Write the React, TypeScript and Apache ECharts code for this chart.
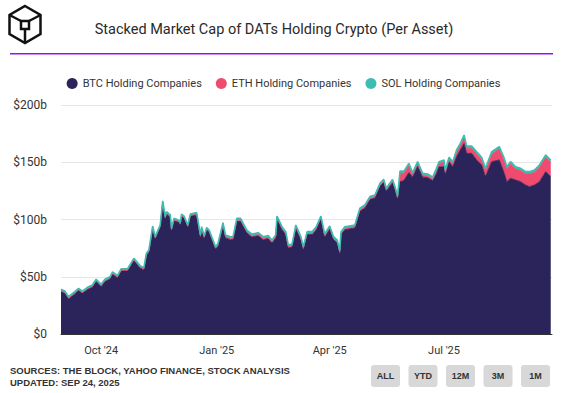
import React, { useEffect, useRef } from "react";
import * as echarts from "echarts";

const dates = [
  "2024-08-30", "2024-09-02", "2024-09-05", "2024-09-10", "2024-09-13", "2024-09-16", "2024-09-20", "2024-09-24", "2024-09-27",
  "2024-10-01", "2024-10-04", "2024-10-08", "2024-10-10", "2024-10-14", "2024-10-17", "2024-10-22", "2024-10-27",
  "2024-11-01", "2024-11-04", "2024-11-06", "2024-11-08", "2024-11-11", "2024-11-13", "2024-11-17", "2024-11-19", "2024-11-21", "2024-11-22", "2024-11-25", "2024-11-26", "2024-11-28",
  "2024-12-02", "2024-12-03", "2024-12-04", "2024-12-06", "2024-12-09", "2024-12-11", "2024-12-16", "2024-12-19", "2024-12-20", "2024-12-22", "2024-12-24", "2024-12-26", "2024-12-31",
  "2025-01-02", "2025-01-06", "2025-01-08", "2025-01-12", "2025-01-14", "2025-01-17", "2025-01-20", "2025-01-25", "2025-01-29",
  "2025-02-01", "2025-02-03", "2025-02-07", "2025-02-11", "2025-02-14", "2025-02-17", "2025-02-18", "2025-02-22", "2025-02-25", "2025-02-27",
  "2025-03-02", "2025-03-05", "2025-03-09", "2025-03-11", "2025-03-14", "2025-03-18", "2025-03-21", "2025-03-25", "2025-03-28",
  "2025-04-01", "2025-04-04", "2025-04-07", "2025-04-09", "2025-04-10", "2025-04-13", "2025-04-21", "2025-04-25", "2025-04-29",
  "2025-05-03", "2025-05-07", "2025-05-11", "2025-05-14", "2025-05-16", "2025-05-21", "2025-05-23", "2025-05-25", "2025-05-27", "2025-05-30",
  "2025-06-03", "2025-06-06", "2025-06-10", "2025-06-14", "2025-06-18", "2025-06-22", "2025-06-25", "2025-06-27",
  "2025-07-01", "2025-07-02", "2025-07-05", "2025-07-08", "2025-07-11", "2025-07-14", "2025-07-17", "2025-07-19", "2025-07-23", "2025-07-27", "2025-07-31",
  "2025-08-03", "2025-08-08", "2025-08-14", "2025-08-18", "2025-08-20", "2025-08-23", "2025-08-27", "2025-08-31",
  "2025-09-04", "2025-09-07", "2025-09-11", "2025-09-15", "2025-09-20", "2025-09-24",
];

const btcValues = [
  37.0, 35.5, 30.6, 35.0, 37.9, 35.5, 38.8, 40.8, 45.8,
  41.4, 45.8, 48.0, 52.2, 49.2, 55.0, 55.0, 64.1,
  57.7, 56.0, 68.5, 71.4, 92.3, 83.0, 93.2, 114.2, 100.5, 104.8, 102.0, 90.3, 99.0,
  97.4, 95.2, 102.8, 101.0, 93.2, 102.8, 104.0, 84.5, 91.7, 83.6, 91.0, 88.8, 74.3,
  76.4, 94.6, 83.9, 82.4, 82.4, 98.4, 98.4, 88.2, 84.7,
  85.4, 85.9, 82.4, 83.4, 79.4, 83.9, 100.4, 91.1, 86.8, 75.1,
  75.9, 92.6, 82.4, 73.7, 86.8, 86.8, 90.6, 100.4, 84.7,
  91.7, 82.4, 79.4, 70.2, 86.8, 91.1, 92.6, 107.2, 110.1,
  117.4, 118.8, 129.0, 132.4, 124.7, 132.4, 126.1, 117.9, 133.0, 134.0,
  141.0, 137.0, 146.5, 137.0, 136.5, 134.0, 140.0, 146.0,
  146.0, 139.0, 150.5, 146.0, 154.9, 160.7, 166.5, 157.8, 157.8, 152.0, 147.6,
  137.4, 150.5, 152.0, 140.3, 133.0, 136.0, 134.5, 133.0,
  130.1, 128.7, 130.1, 133.0, 141.8, 137.4,
];

const ethValues = [
  0.8, 0.8, 0.8, 0.8, 0.8, 0.8, 0.8, 0.8, 0.8,
  0.8, 0.8, 0.8, 0.8, 0.8, 0.8, 0.8, 0.8,
  0.8, 0.8, 0.8, 0.8, 0.8, 0.8, 0.8, 0.8, 0.8, 0.8, 0.8, 0.8, 0.8,
  0.8, 0.8, 0.8, 0.8, 0.8, 0.8, 0.8, 0.8, 0.8, 0.8, 0.8, 0.8, 0.8,
  1.0, 1.0, 1.0, 1.0, 1.0, 1.0, 1.0, 1.0, 1.0,
  1.0, 1.0, 1.0, 1.0, 1.0, 1.0, 1.0, 1.0, 1.0, 1.0,
  1.0, 1.0, 1.0, 1.0, 1.0, 1.0, 1.0, 1.0, 1.0,
  1.0, 1.0, 1.0, 1.0, 1.0, 1.0, 1.0, 1.0, 1.0,
  1.0, 1.0, 1.0, 1.0, 1.0, 1.0, 1.0, 1.0, 7.6, 6.2,
  6.2, 2.2, 2.2, 1.5, 1.4, 1.2, 2.9, 2.7,
  4.2, 2.4, 2.0, 2.7, 3.9, 3.9, 5.4, 4.5, 4.5, 5.3, 4.8,
  5.4, 6.8, 9.7, 11.1, 11.1, 12.5, 9.5, 9.7,
  9.7, 11.1, 11.1, 12.6, 12.5, 12.6,
];

const solValues = [
  1.2, 1.2, 1.2, 1.2, 1.2, 1.2, 1.2, 1.2, 1.2,
  1.2, 1.2, 1.2, 1.2, 1.2, 1.2, 1.2, 1.2,
  1.2, 1.2, 1.2, 1.2, 1.2, 1.2, 1.2, 1.2, 1.2, 1.2, 1.2, 1.2, 1.2,
  1.2, 1.2, 1.2, 1.2, 1.2, 1.2, 1.2, 1.2, 1.2, 1.2, 1.2, 1.2, 1.2,
  1.6, 1.6, 1.6, 1.6, 1.6, 1.6, 1.6, 1.6, 1.6,
  1.6, 1.6, 1.6, 1.6, 1.6, 1.6, 1.6, 1.6, 1.6, 1.6,
  1.6, 1.6, 1.6, 1.6, 1.6, 1.6, 1.6, 1.6, 1.6,
  1.6, 1.6, 1.6, 1.6, 1.6, 1.6, 1.6, 1.6, 1.6,
  1.6, 1.6, 1.6, 1.6, 1.6, 1.6, 1.6, 1.6, 1.8, 1.8,
  1.8, 1.8, 1.8, 1.8, 1.8, 1.8, 1.8, 1.8,
  1.8, 1.8, 1.8, 1.8, 1.9, 1.9, 1.9, 1.9, 1.9, 1.9, 1.9,
  1.9, 1.9, 1.9, 2.0, 2.0, 2.0, 2.0, 2.0,
  2.0, 2.0, 2.0, 2.0, 2.0, 2.0,
];

const seriesNames = ["BTC Holding Companies", "ETH Holding Companies", "SOL Holding Companies"];
const seriesColors = ["#2b245b", "#f04a6e", "#3dbdb2"];
const yTicks = [0, 50, 100, 150, 200];
const xLabelDates = ["2024-10-01", "2025-01-01", "2025-04-01", "2025-07-01"];
const xRange = ["2024-08-30", "2025-09-25"];
const buttons = ["ALL", "YTD", "12M", "3M", "1M"];
const title = "Stacked Market Cap of DATs Holding Crypto (Per Asset)";
const sourceLines = ["SOURCES: THE BLOCK, YAHOO FINANCE, STOCK ANALYSIS", "UPDATED: SEP 24, 2025"];

const MONTHS = ["Jan", "Feb", "Mar", "Apr", "May", "Jun", "Jul", "Aug", "Sep", "Oct", "Nov", "Dec"];
const toTs = (s: string) => {
  const [y, m, d] = s.split("-").map(Number);
  return new Date(y, m - 1, d).getTime();
};

export default function App() {
  const ref = useRef<HTMLDivElement>(null);
  useEffect(() => {
    if (!ref.current) return;
    const chart = echarts.init(ref.current, null, { renderer: "svg" });
    const valueSets = [btcValues, ethValues, solValues];
    const series = seriesNames.map((name, i) => ({
      name,
      type: "line",
      stack: "total",
      symbol: "none",
      showSymbol: false,
      xAxisIndex: 0,
      data: dates.map((d, j) => [d, valueSets[i][j]]),
      lineStyle: { width: i === 2 ? 1.6 : 0.8, color: seriesColors[i] },
      itemStyle: { color: seriesColors[i] },
      areaStyle: { color: seriesColors[i], opacity: 1 },
      z: 2,
    }));

    const hex = [
      [25, 6], [40.5, 15], [40.5, 34], [25, 43], [9.5, 34], [9.5, 15],
    ];
    const btnGraphics = buttons.map((b, i) => ({
      type: "group",
      left: 371 + i * 37.5,
      top: 365,
      children: [
        { type: "rect", shape: { x: 0, y: 0, width: 29, height: 22, r: 3 }, style: { fill: "#d8d8d8" } },
        {
          type: "text",
          style: {
            text: b, x: 14.5, y: 11, align: "center", verticalAlign: "middle",
            font: "bold 9px 'Liberation Sans', Arial, sans-serif", fill: "#333",
          },
        },
      ],
    }));

    chart.setOption({
      animation: false,
      backgroundColor: "#fff",
      title: {
        text: title,
        left: 269,
        textAlign: "center",
        top: 17,
        textStyle: { fontFamily: "Roboto, sans-serif", fontSize: 14.5, fontWeight: 400, color: "#2a2a2a" },
      },
      legend: {
        data: seriesNames,
        top: 73,
        left: "center",
        icon: "circle",
        itemWidth: 11,
        itemHeight: 11,
        itemGap: 14,
        textStyle: { fontFamily: "Roboto, sans-serif", fontSize: 11, color: "#333" },
      },
      grid: { left: 61, right: 15, top: 105, bottom: 59 },
      xAxis: [
        {
          type: "time",
          min: xRange[0],
          max: xRange[1],
          axisLine: { show: true, lineStyle: { color: "#333", width: 1 } },
          axisTick: { show: false },
          splitLine: { show: false },
          axisLabel: { show: false },
        },
        {
          type: "value",
          position: "bottom",
          min: toTs(xRange[0]),
          max: toTs(xRange[1]),
          axisLine: { show: false },
          axisTick: { show: false },
          splitLine: { show: false },
          axisLabel: {
            customValues: xLabelDates.map(toTs),
            formatter: (v: number) => {
              const d = new Date(v);
              return `${MONTHS[d.getMonth()]} '${String(d.getFullYear()).slice(2)}`;
            },
            fontFamily: "Roboto, sans-serif",
            fontSize: 11,
            color: "#333",
            margin: 11,
          },
        },
      ],
      yAxis: {
        type: "value",
        min: 0,
        max: 200,
        interval: 50,
        axisLine: { show: false },
        axisTick: { show: false },
        splitLine: { lineStyle: { color: "#e6e6e6", width: 1 } },
        axisLabel: {
          formatter: (v: number) => (yTicks.includes(v) ? (v === 0 ? "$0" : `$${v}b`) : ""),
          fontFamily: "Roboto, sans-serif",
          fontSize: 12,
          color: "#333",
          margin: 14,
        },
      },
      series,
      graphic: [
        {
          type: "polygon",
          shape: { points: hex },
          style: { fill: "none", stroke: "#111", lineWidth: 2.5 },
        },
        {
          type: "rect",
          shape: { x: 21, y: 21, width: 8, height: 8 },
          style: { fill: "none", stroke: "#111", lineWidth: 2.5 },
        },
        { type: "line", shape: { x1: 9.5, y1: 15, x2: 21, y2: 21 }, style: { stroke: "#111", lineWidth: 2.5 } },
        { type: "line", shape: { x1: 40.5, y1: 15, x2: 29, y2: 21 }, style: { stroke: "#111", lineWidth: 2.5 } },
        { type: "line", shape: { x1: 25, y1: 43, x2: 25, y2: 29 }, style: { stroke: "#111", lineWidth: 2.5 } },
        {
          type: "rect",
          shape: { x: 10, y: 53, width: 543, height: 1.5 },
          style: { fill: "#9a12f2" },
        },
        {
          type: "text",
          left: 10,
          top: 364,
          style: {
            text: sourceLines.join("\n"),
            font: "bold 9.5px 'Liberation Sans', Arial, sans-serif",
            fill: "#333",
            lineHeight: 12,
          },
        },
        ...btnGraphics,
      ],
    });
    return () => chart.dispose();
  }, []);
  return <div ref={ref} style={{ position: "absolute", left: 0, top: 0, width: 567, height: 393 }} />;
}
